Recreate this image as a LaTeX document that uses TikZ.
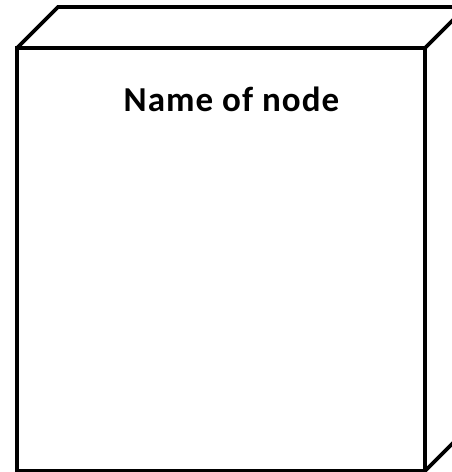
\documentclass[tikz,border=0pt]{standalone}
\usepackage{fontspec}
\setmainfont{Carlito}
\begin{document}
\begin{tikzpicture}[x=1pt,y=-1pt,
  edge/.style={line width=3.6pt,line join=miter},
  label/.style={font=\bfseries\fontsize{35}{39}\selectfont\addfontfeatures{LetterSpace=3},anchor=base}]
\useasboundingbox (0,0) rectangle (452,472);
\clip (0,0) rectangle (452,472);
\coordinate (ftl) at (17,48);
\coordinate (ftr) at (425,48);
\coordinate (fbr) at (425,471);
\coordinate (fbl) at (17,471);
\coordinate (btl) at (58,7);
\coordinate (btr) at (466,7);
\coordinate (bbr) at (466,430);
\draw[edge] (ftl) -- (ftr) -- (fbr) -- (fbl) -- cycle;
\draw[edge] (ftl) -- (btl) -- (btr) -- (ftr);
\draw[edge] (btr) -- (bbr) -- (fbr);
\node[label] (name) at (231.5,111) {Name of node};
\end{tikzpicture}
\end{document}
